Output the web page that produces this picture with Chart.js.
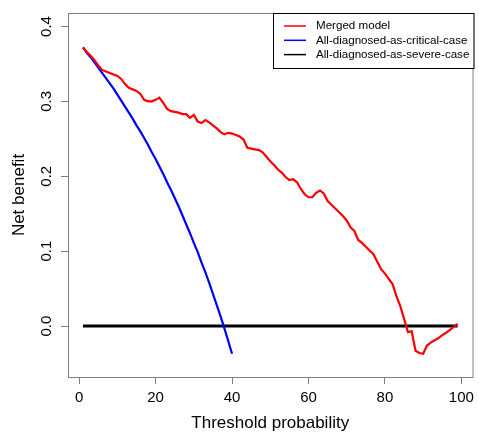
<!DOCTYPE html>
<html>
<head>
<meta charset="utf-8">
<script src="https://cdn.jsdelivr.net/npm/chart.js@4/dist/chart.umd.min.js"></script>
<style>
  html, body { margin: 0; padding: 0; background: #fff; }
  #wrap { width: 479px; height: 434px; }
</style>
</head>
<body>
<div id="wrap"><canvas id="dca" width="479" height="434"></canvas></div>
<script>
// threshold probability (%)
const thresholds = [1, 2, 3, 4, 5, 6, 7, 8, 9, 10, 11, 12, 13, 14, 15, 16, 17, 18, 19, 20,
  21, 22, 23, 24, 25, 26, 27, 28, 29, 30, 31, 32, 33, 34, 35, 36, 37, 38, 39, 40,
  41, 42, 43, 44, 45, 46, 47, 48, 49, 50, 51, 52, 53, 54, 55, 56, 57, 58, 59, 60,
  61, 62, 63, 64, 65, 66, 67, 68, 69, 70, 71, 72, 73, 74, 75, 76, 77, 78, 79, 80,
  81, 82, 83, 84, 85, 86, 87, 88, 89, 90, 91, 92, 93, 94, 95, 96, 97, 98, 99];

// net benefit, merged model
const mergedModel = [0.372, 0.366, 0.361, 0.355, 0.348, 0.342, 0.340, 0.338, 0.336, 0.334,
  0.330, 0.323, 0.318, 0.316, 0.314, 0.310, 0.302, 0.300, 0.300, 0.302,
  0.305, 0.298, 0.290, 0.287, 0.286, 0.285, 0.283, 0.283, 0.278, 0.282,
  0.273, 0.271, 0.275, 0.272, 0.268, 0.264, 0.259, 0.256, 0.258, 0.257,
  0.255, 0.253, 0.249, 0.238, 0.237, 0.236, 0.235, 0.232, 0.226, 0.220,
  0.215, 0.209, 0.205, 0.199, 0.195, 0.196, 0.192, 0.183, 0.176, 0.172,
  0.172, 0.178, 0.181, 0.177, 0.167, 0.162, 0.157, 0.152, 0.147, 0.141,
  0.132, 0.127, 0.115, 0.111, 0.106, 0.101, 0.096, 0.086, 0.076, 0.070,
  0.063, 0.056, 0.040, 0.027, 0.010, -0.008, -0.007, -0.033, -0.036, -0.037,
  -0.026, -0.022, -0.019, -0.016, -0.012, -0.009, -0.005, -0.001, 0.003];

// net benefit, all diagnosed as critical case (thresholds 1..40)
const allCritical = [0.372, 0.365, 0.359, 0.352, 0.345, 0.338, 0.331, 0.324, 0.317, 0.309,
  0.301, 0.293, 0.285, 0.277, 0.268, 0.260, 0.251, 0.242, 0.232, 0.223,
  0.213, 0.203, 0.192, 0.182, 0.171, 0.160, 0.148, 0.136, 0.124, 0.111,
  0.099, 0.085, 0.072, 0.058, 0.043, 0.028, 0.013, -0.003, -0.020, -0.037];

// net benefit, all diagnosed as severe case
const severeX = [1, 99];
const allSevere = [0, 0];

const xTicks = [0, 20, 40, 60, 80, 100];
const yTicks = [0.0, 0.1, 0.2, 0.3, 0.4];

const seriesLabels = ['Merged model', 'All-diagnosed-as-critical-case', 'All-diagnosed-as-severe-case'];
const seriesColors = ['#ff0000', '#0000ff', '#000000'];

const FONT = 'Liberation Sans, Arial, sans-serif';
const pts = (xs, ys) => ys.map((v, i) => ({ x: xs[i], y: v }));

// grey box round the plot region
const plotBox = {
  id: 'plotBox',
  afterDraw(chart) {
    const { ctx, chartArea: a } = chart;
    ctx.save();
    ctx.strokeStyle = '#7f7f7f';
    ctx.lineWidth = 1;
    ctx.strokeRect(a.left + 0.5, a.top + 0.5, a.right - a.left, a.bottom - a.top);
    ctx.restore();
  }
};

// legend in the top right corner, R style
const boxLegend = {
  id: 'boxLegend',
  afterDraw(chart) {
    const { ctx, chartArea: a } = chart;
    const x0 = 273, y0 = a.top, x1 = a.right + 1, y1 = 68;
    ctx.save();
    ctx.fillStyle = '#fff';
    ctx.fillRect(x0, y0, x1 - x0, y1 - y0);
    ctx.strokeStyle = '#000';
    ctx.lineWidth = 1;
    ctx.strokeRect(x0 + 0.5, y0 + 0.5, x1 - x0, y1 - y0);
    ctx.font = '11.6px ' + FONT;
    ctx.textBaseline = 'middle';
    chart.data.datasets.forEach((ds, i) => {
      const y = 26 + i * 14.3;
      ctx.strokeStyle = ds.borderColor;
      ctx.lineWidth = 1.5;
      ctx.beginPath();
      ctx.moveTo(284, y);
      ctx.lineTo(306, y);
      ctx.stroke();
      ctx.fillStyle = '#000';
      ctx.fillText(ds.label, 316, y);
    });
    ctx.restore();
  }
};

new Chart(document.getElementById('dca'), {
  type: 'line',
  data: {
    datasets: [{
      label: seriesLabels[0],
      data: pts(thresholds, mergedModel),
      borderColor: seriesColors[0],
      borderWidth: 2.2
    }, {
      label: seriesLabels[1],
      data: pts(thresholds, allCritical),
      borderColor: seriesColors[1],
      borderWidth: 2.2
    }, {
      label: seriesLabels[2],
      data: pts(severeX, allSevere),
      borderColor: seriesColors[2],
      borderWidth: 3
    }]
  },
  options: {
    responsive: false,
    animation: false,
    events: [],
    elements: { point: { radius: 0 }, line: { tension: 0, fill: false } },
    layout: { padding: { top: 12, right: 4, left: 0, bottom: 0 } },
    plugins: { legend: { display: false }, tooltip: { enabled: false } },
    scales: {
      x: {
        type: 'linear',
        min: -2.92,
        max: 102.92,
        afterBuildTicks: s => { s.ticks = xTicks.map(v => ({ value: v })); },
        afterFit: s => { s.height = 57; },
        grid: { drawOnChartArea: false, drawTicks: true, tickLength: 7, color: '#7f7f7f' },
        border: { display: true, color: '#7f7f7f' },
        ticks: { color: '#000', font: { family: FONT, size: 15 }, padding: 5, maxRotation: 0 },
        title: {
          display: true, text: 'Threshold probability', color: '#000',
          font: { family: FONT, size: 17 }, padding: { top: 0, bottom: 0 }
        }
      },
      y: {
        type: 'linear',
        min: -0.068,
        max: 0.418,
        afterBuildTicks: s => { s.ticks = yTicks.map(v => ({ value: v })); },
        afterFit: s => { s.width = 68; },
        grid: { drawOnChartArea: false, drawTicks: true, tickLength: 7, color: '#7f7f7f' },
        border: { display: true, color: '#7f7f7f' },
        ticks: {
          color: '#000', font: { family: FONT, size: 15 }, padding: 4,
          minRotation: 90, maxRotation: 90, crossAlign: 'center',
          callback: v => v.toFixed(1)
        },
        title: {
          display: true, text: 'Net benefit', color: '#000',
          font: { family: FONT, size: 17 }, padding: { top: 9, bottom: 0 }
        }
      }
    }
  },
  plugins: [plotBox, boxLegend]
});
</script>
</body>
</html>
